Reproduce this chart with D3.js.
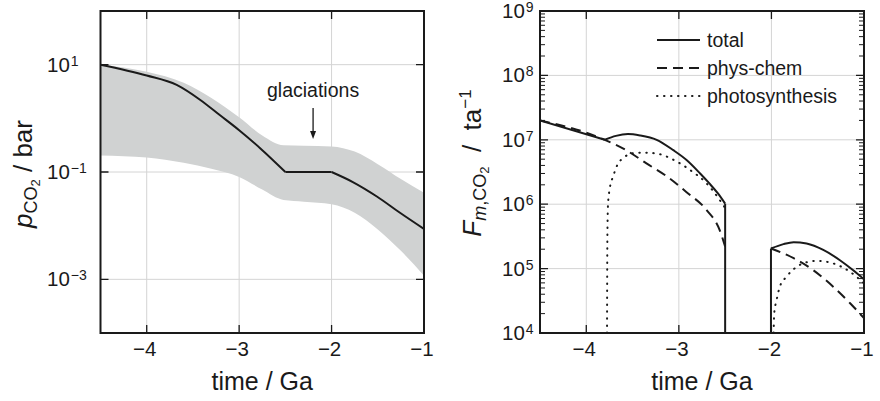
<!DOCTYPE html>
<html><head><meta charset="utf-8">
<script src="https://cdn.jsdelivr.net/npm/d3@7"></script>
<style>
body{margin:0;background:#fff}
svg{display:block}
text{font-family:"Liberation Sans",Arial,Helvetica,sans-serif;fill:#1a1a1a;white-space:pre}
</style>
</head><body>
<svg id="c" width="880" height="401"></svg>
<script>
// ---------- shared ----------
const timeTicks = [-4, -3, -2, -1];
const timeTickLabels = ["\u22124", "\u22123", "\u22122", "\u22121"];

// ---------- left panel: pCO2 / bar ----------
const pTicks = [1e1, 1e-1, 1e-3];
const pTickExp = ["1", "\u22121", "\u22123"];
// central curve, three segments
const pLineA_t = [-4.5, -4.0, -3.676, -3.42, -3.21, -3.0, -2.77, -2.5];
const pLineA_v = [10, 6.3, 4.2, 2.2, 1.15, 0.6, 0.275, 0.1];
const pLineB_t = [-2.5, -2.0];
const pLineB_v = [0.1, 0.1];
const pLineC_t = [-2.0, -1.77, -1.51, -1.26, -1.0];
const pLineC_v = [0.1, 0.065, 0.035, 0.0174, 0.0087];
// uncertainty band
const bandT  = [-4.5, -4.0, -3.6, -3.3, -3.0, -2.75, -2.52, -2.3, -2.0, -1.75, -1.5, -1.25, -1.0];
const bandHi = [10, 7.4, 4.6, 2.4, 1.05, 0.48, 0.315, 0.31, 0.30, 0.24, 0.14, 0.074, 0.041];
const bandLo = [0.204, 0.186, 0.148, 0.115, 0.081, 0.047, 0.030, 0.028, 0.025, 0.0174, 0.0085, 0.0034, 0.00117];
const glaciationT = -2.2;

// ---------- right panel: F m,CO2 / t a^-1 ----------
const fTicks = [1e4, 1e5, 1e6, 1e7, 1e8, 1e9];
const fTickExp = ["4", "5", "6", "7", "8", "9"];
const totalA_t = [-4.5, -3.8];
const totalA_v = [2.0e7, 1.0e7];
const totalB_t = [-3.8, -3.68, -3.55, -3.42, -3.24, -3.06, -2.92, -2.77, -2.67, -2.58, -2.5];
const totalB_v = [1.0e7, 1.15e7, 1.23e7, 1.17e7, 1.0e7, 6.9e6, 4.9e6, 3.0e6, 2.1e6, 1.48e6, 1.02e6];
const totalC_t = [-2.005, -1.87, -1.76, -1.62, -1.44, -1.26, -1.12, -1.0];
const totalC_v = [2.05e5, 2.4e5, 2.57e5, 2.45e5, 1.95e5, 1.35e5, 9.5e4, 6.8e4];
const totalDrops_t = [-2.5, -2.005];
const totalDrops_v = [1.02e6, 2.05e5];
const physA_t = [-4.5, -3.8, -3.57, -3.35, -3.13, -2.92, -2.70, -2.56, -2.5];
const physA_v = [2.0e7, 1.0e7, 6.9e6, 4.3e6, 2.7e6, 1.55e6, 8.1e5, 4.0e5, 2.2e5];
const physB_t = [-2.005, -1.76, -1.55, -1.33, -1.15, -1.0];
const physB_v = [2.05e5, 1.45e5, 9.5e4, 5.2e4, 2.9e4, 1.7e4];
const photoA_t = [-3.776, -3.772, -3.765, -3.745, -3.71, -3.66, -3.6, -3.5, -3.35, -3.21, -3.06, -2.88, -2.70, -2.56, -2.5];
const photoA_v = [1e4, 3.2e5, 1.0e6, 1.8e6, 2.7e6, 4.2e6, 5.2e6, 6.2e6, 6.3e6, 6.0e6, 4.9e6, 3.4e6, 2.1e6, 1.17e6, 8.7e5];
const photoB_t = [-1.976, -1.97, -1.945, -1.91, -1.84, -1.77, -1.66, -1.51, -1.33, -1.15, -1.0];
const photoB_v = [1e4, 2.0e4, 3.2e4, 5.2e4, 7.4e4, 9.5e4, 1.2e5, 1.32e5, 1.2e5, 8.9e4, 5.9e4];
const legendLabels = ["total", "phys-chem", "photosynthesis"];

// ---------- drawing ----------
const svg = d3.select("#c");
const INK = "#1a1a1a", GRID = "#d4d4d4", BAND = "#d0d2d2";
const DASH = "10,6", DOT = "0.5,6.5";
const TOP = 11, BOT = 333;
const xL = d3.scaleLinear([-4.5, -1], [100.5, 424]);
const yL = d3.scaleLog([1e-4, 1e2], [BOT, TOP]);
const xR = d3.scaleLinear([-4.5, -1], [540, 864]);
const yR = d3.scaleLog([1e4, 1e9], [BOT, TOP]);

const defs = svg.append("defs");
function clip(id, x) {
  defs.append("clipPath").attr("id", id).append("rect")
    .attr("x", x.range()[0]).attr("y", TOP)
    .attr("width", x.range()[1] - x.range()[0]).attr("height", BOT - TOP);
}
clip("clipL", xL); clip("clipR", xR);

function zip(t, v) { return t.map((d, i) => [d, v[i]]); }

function panel(x, y, gridY, clipId) {
  const g = svg.append("g");
  g.selectAll(null).data(timeTicks.slice(0, 3)).join("line")
    .attr("x1", d => x(d)).attr("x2", d => x(d)).attr("y1", TOP).attr("y2", BOT)
    .attr("stroke", GRID).attr("stroke-width", 1);
  g.selectAll(null).data(gridY).join("line")
    .attr("x1", x.range()[0]).attr("x2", x.range()[1]).attr("y1", d => y(d)).attr("y2", d => y(d))
    .attr("stroke", GRID).attr("stroke-width", 1);
  return svg.append("g").attr("clip-path", `url(#${clipId})`);
}

function frameAndTicks(x, y, majorY, minorY) {
  const g = svg.append("g");
  const x0 = x.range()[0], x1 = x.range()[1];
  const ML = 8, mL = 5;
  g.selectAll(null).data(timeTicks.slice(0, 3)).join("path")
    .attr("d", d => `M${x(d)},${BOT}v${-ML}M${x(d)},${TOP}v${ML}`)
    .attr("stroke", INK).attr("stroke-width", 1.3);
  g.selectAll(null).data(majorY).join("path")
    .attr("d", d => `M${x0},${y(d)}h${ML}M${x1},${y(d)}h${-ML}`)
    .attr("stroke", INK).attr("stroke-width", 1.3);
  g.selectAll(null).data(minorY).join("path")
    .attr("d", d => `M${x0},${y(d)}h${mL}M${x1},${y(d)}h${-mL}`)
    .attr("stroke", INK).attr("stroke-width", 1);
  g.append("rect").attr("x", x0).attr("y", TOP).attr("width", x1 - x0).attr("height", BOT - TOP)
    .attr("fill", "none").attr("stroke", INK).attr("stroke-width", 2);
  g.selectAll(null).data(timeTicks).join("text")
    .attr("x", d => x(d) - 2).attr("y", 356).attr("text-anchor", "middle")
    .attr("font-size", 20.5).text((d, i) => timeTickLabels[i]);
  g.append("text").attr("x", (x0 + x1) / 2).attr("y", 390).attr("text-anchor", "middle")
    .attr("font-size", 25).text("time / Ga");
}

function yLabels(y, ticks, exps, xStart) {
  const g = svg.append("g");
  ticks.forEach((d, i) => {
    const t = g.append("text").attr("x", xStart).attr("y", y(d) + 7).attr("font-size", 20.5);
    t.append("tspan").text("10");
    t.append("tspan").attr("font-size", 14).attr("dy", -6).attr("dx", 1).text(exps[i]);
  });
}

// ---- left ----
const plotL = panel(xL, yL, pTicks, "clipL");
const area = d3.area().x(d => xL(d[0])).y0(d => yL(d[2])).y1(d => yL(d[1])).curve(d3.curveMonotoneX);
plotL.append("path").datum(bandT.map((t, i) => [t, bandHi[i], bandLo[i]]))
  .attr("d", area).attr("fill", BAND);
const lineL = d3.line().x(d => xL(d[0])).y(d => yL(d[1])).curve(d3.curveMonotoneX);
[[pLineA_t, pLineA_v], [pLineB_t, pLineB_v], [pLineC_t, pLineC_v]].forEach(([t, v]) => {
  plotL.append("path").datum(zip(t, v)).attr("d", lineL)
    .attr("fill", "none").attr("stroke", INK).attr("stroke-width", 2).attr("stroke-linejoin", "round");
});
frameAndTicks(xL, yL, pTicks, []);
yLabels(yL, pTicks, pTickExp, 47);

const gx = xL(glaciationT);
svg.append("text").attr("x", gx).attr("y", 97).attr("text-anchor", "middle")
  .attr("font-size", 19.5).text("glaciations");
svg.append("line").attr("x1", gx).attr("x2", gx).attr("y1", 108).attr("y2", 132)
  .attr("stroke", INK).attr("stroke-width", 1.3);
svg.append("path").attr("d", `M${gx - 3},131L${gx + 3},131L${gx},139Z`).attr("fill", INK);

const tl = svg.append("text").attr("transform", "translate(32,174) rotate(-90)")
  .attr("text-anchor", "middle").attr("font-size", 26);
tl.append("tspan").attr("font-style", "italic").text("p");
tl.append("tspan").attr("font-size", 18).attr("dy", 5).text("CO");
tl.append("tspan").attr("font-size", 13).attr("dy", 3).text("2");
tl.append("tspan").attr("dy", -8).text(" / bar");

// ---- right ----
const minorF = [];
fTicks.slice(0, -1).forEach(d => [2, 3, 4, 5, 6, 7, 8, 9].forEach(k => minorF.push(d * k)));
const plotR = panel(xR, yR, fTicks.slice(1, -1), "clipR");
const lineR = d3.line().x(d => xR(d[0])).y(d => yR(d[1])).curve(d3.curveMonotoneX);
function seg(t, v, dash) {
  plotR.append("path").datum(zip(t, v)).attr("d", lineR)
    .attr("fill", "none").attr("stroke", INK).attr("stroke-width", 2)
    .attr("stroke-dasharray", dash).attr("stroke-linecap", dash === DOT ? "round" : "butt");
}
seg(physA_t, physA_v, DASH);
seg(physB_t, physB_v, DASH);
seg(photoA_t, photoA_v, DOT);
seg(photoB_t, photoB_v, DOT);
seg(totalA_t, totalA_v, null);
seg(totalB_t, totalB_v, null);
seg(totalC_t, totalC_v, null);
totalDrops_t.forEach((t, i) => {
  plotR.append("line").attr("x1", xR(t)).attr("x2", xR(t))
    .attr("y1", yR(totalDrops_v[i])).attr("y2", BOT + 2)
    .attr("stroke", INK).attr("stroke-width", 2);
});
frameAndTicks(xR, yR, fTicks, minorF);
yLabels(yR, fTicks, fTickExp, 502);

const legendDash = [null, DASH, DOT];
legendLabels.forEach((lab, i) => {
  const ly = 40 + i * 28;
  svg.append("line").attr("x1", 657).attr("x2", 700).attr("y1", ly).attr("y2", ly)
    .attr("stroke", INK).attr("stroke-width", 2)
    .attr("stroke-dasharray", legendDash[i])
    .attr("stroke-linecap", i === 2 ? "round" : "butt");
  svg.append("text").attr("x", 707).attr("y", ly + 7).attr("font-size", 19.5).text(lab);
});

const tr = svg.append("text").attr("transform", "translate(481,163) rotate(-90)")
  .attr("text-anchor", "middle").attr("font-size", 26);
tr.append("tspan").attr("font-style", "italic").text("F");
tr.append("tspan").attr("font-size", 18).attr("dy", 5).attr("font-style", "italic").text("m");
tr.append("tspan").attr("font-size", 18).text(",CO");
tr.append("tspan").attr("font-size", 13).attr("dy", 3).text("2");
tr.append("tspan").attr("dy", -8).text("  /  ta");
tr.append("tspan").attr("font-size", 17).attr("dy", -10).text("\u22121");
</script>
</body></html>
